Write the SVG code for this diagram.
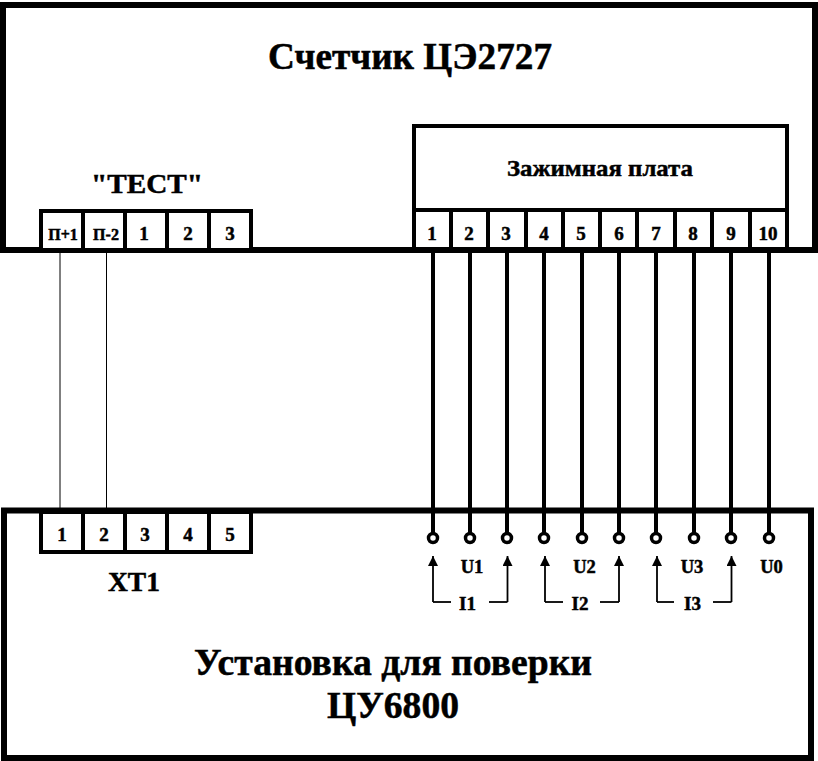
<svg xmlns="http://www.w3.org/2000/svg" width="818" height="761" viewBox="0 0 818 761">
<style>
text{font-family:"Liberation Serif","Times New Roman",serif;font-weight:bold;fill:#000;stroke:#000;stroke-width:.5;text-anchor:middle}
.box{fill:none;stroke:#000;stroke-width:6}
.cell{fill:#fff;stroke:#000;stroke-width:4}
.t1{font-size:37.500px}.t2{font-size:28px}.t3{font-size:19px}.t4{font-size:16px}.t5{font-size:18.500px}
.thin{fill:none;stroke:#000;stroke-width:1}
.wire{fill:none;stroke:#000;stroke-width:4}
.cur{fill:none;stroke:#000;stroke-width:1.800}
.term{fill:#fff;stroke:#000;stroke-width:3.500}
</style>
<defs>
<marker id="arr" viewBox="0 0 10 10" refX="10" refY="5" markerWidth="10" markerHeight="10" markerUnits="userSpaceOnUse" orient="auto"><path d="M0 0L10 5L0 10Z" fill="#000"/></marker>
</defs>
<g id="meter"><rect class="box" x="3" y="5" width="812" height="245"/><text class="t1" x="410" y="68.500" textLength="284" lengthAdjust="spacingAndGlyphs">Счетчик ЦЭ2727</text></g>
<g id="test"><text class="t2" x="147" y="193" textLength="112" lengthAdjust="spacingAndGlyphs">"ТЕСТ"</text>
<rect class="cell" x="41" y="211" width="42" height="39"/><rect class="cell" x="83" y="211" width="42" height="39"/><rect class="cell" x="125" y="211" width="42" height="39"/><rect class="cell" x="167" y="211" width="42" height="39"/><rect class="cell" x="209" y="211" width="42" height="39"/>
<text class="t4" x="63" y="240">П+1</text><text class="t4" x="106" y="240">П-2</text><text class="t3" x="144" y="240">1</text><text class="t3" x="188" y="240">2</text><text class="t3" x="230" y="240">3</text></g>
<g id="plate"><rect class="cell" x="414" y="126" width="373" height="84"/><text class="t2" x="600" y="176" style="font-size:24px" textLength="186" lengthAdjust="spacingAndGlyphs">Зажимная плата</text>
<path class="cell" d="M414 210V250M451 210V250M488 210V250M526 210V250M563 210V250M600 210V250M637 210V250M675 210V250M712 210V250M750 210V250M787 210V250"/>
<text class="t3" x="432" y="240">1</text><text class="t3" x="469" y="240">2</text><text class="t3" x="506" y="240">3</text><text class="t3" x="544" y="240">4</text><text class="t3" x="581" y="240">5</text><text class="t3" x="619" y="240">6</text><text class="t3" x="656" y="240">7</text><text class="t3" x="693" y="240">8</text><text class="t3" x="731" y="240">9</text><text class="t3" x="768" y="240">10</text></g>
<g id="installation"><rect class="box" x="4" y="510.500" width="807" height="247.500"/>
<text class="t1" x="393" y="674.500" textLength="398" lengthAdjust="spacingAndGlyphs">Установка для поверки</text><text class="t1" x="393" y="717.500" textLength="132" lengthAdjust="spacingAndGlyphs">ЦУ6800</text></g>
<g id="xt1"><rect class="cell" x="41" y="512" width="42" height="40"/><rect class="cell" x="83" y="512" width="42" height="40"/><rect class="cell" x="125" y="512" width="42" height="40"/><rect class="cell" x="167" y="512" width="42" height="40"/><rect class="cell" x="209" y="512" width="42" height="40"/>
<text class="t3" x="62" y="541">1</text><text class="t3" x="104" y="541">2</text><text class="t3" x="145" y="541">3</text><text class="t3" x="188" y="541">4</text><text class="t3" x="230" y="541">5</text>
<text class="t2" x="134" y="591" textLength="52" lengthAdjust="spacingAndGlyphs">ХТ1</text></g>
<g id="connectors">
<path class="thin" d="M60 252V510M106.500 252V510"/>
<path class="wire" d="M433 252V534M470 252V534M507 252V534M544 252V534M582 252V534M619 252V534M656 252V534M694 252V534M731 252V534M769 252V534"/>
<path class="cur" marker-end="url(#arr)" d="M433 602V556"/><path class="cur" d="M433 602H451"/>
<path class="cur" marker-end="url(#arr)" d="M507.500 602V556"/><path class="cur" d="M507.500 602H489"/>
<path class="cur" marker-end="url(#arr)" d="M545 602V556"/><path class="cur" d="M545 602H563"/>
<path class="cur" marker-end="url(#arr)" d="M619 602V556"/><path class="cur" d="M619 602H600"/>
<path class="cur" marker-end="url(#arr)" d="M657 602V556"/><path class="cur" d="M657 602H674"/>
<path class="cur" marker-end="url(#arr)" d="M731.500 602V556"/><path class="cur" d="M731.500 602H713"/>
</g>
<g id="terminals"><circle class="term" cx="433" cy="538" r="4.500"/><circle class="term" cx="470" cy="538" r="4.500"/><circle class="term" cx="507" cy="538" r="4.500"/><circle class="term" cx="544" cy="538" r="4.500"/><circle class="term" cx="582" cy="538" r="4.500"/><circle class="term" cx="619" cy="538" r="4.500"/><circle class="term" cx="656" cy="538" r="4.500"/><circle class="term" cx="694" cy="538" r="4.500"/><circle class="term" cx="731" cy="538" r="4.500"/><circle class="term" cx="769" cy="538" r="4.500"/></g>
<g id="labels"><text class="t5" x="472" y="573">U1</text><text class="t5" x="584.500" y="573">U2</text><text class="t5" x="692" y="573">U3</text><text class="t5" x="771.500" y="573">U0</text>
<text class="t3" x="467.500" y="610">I1</text><text class="t3" x="580" y="610">I2</text><text class="t3" x="692.500" y="610">I3</text></g>
</svg>
